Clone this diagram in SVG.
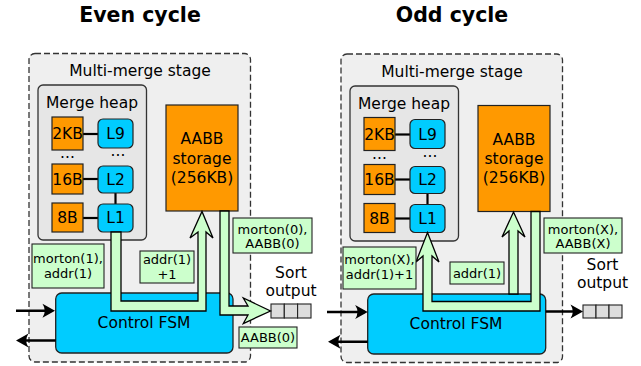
<svg xmlns="http://www.w3.org/2000/svg" width="641" height="366" viewBox="0 0 641 366">
  <style>
    text { font-family: "DejaVu Sans", "Liberation Sans", sans-serif; fill: #000; text-anchor: middle; }
    .title { font-size: 20.5px; font-weight: bold; }
    .t { font-size: 15.5px; }
    .s { font-size: 13px; }
    .stage { fill: #efefef; stroke: #333; stroke-width: 1.3; stroke-dasharray: 6 3; }
    .heap { fill: #e6e6e6; stroke: #333; stroke-width: 1.3; }
    .mem { fill: #ff9900; stroke: #222; stroke-width: 1.2; }
    .lvl { fill: #00ccff; stroke: #222; stroke-width: 1.2; }
    .fsm { fill: #00ccff; stroke: #222; stroke-width: 1.3; }
    .lbl { fill: #ccffcc; stroke: #222; stroke-width: 1.1; }
    .q { fill: #dddddd; stroke: #222; stroke-width: 1.1; }
    .link { stroke: #000; stroke-width: 2.2; fill: none; }
    .bus { fill: #ccffcc; stroke: #000; stroke-width: 1.3; stroke-linejoin: miter; }
    .wire { stroke: #000; stroke-width: 2.5; fill: none; marker-end: url(#head); }
  </style>
  <defs>
    <marker id="head" markerUnits="userSpaceOnUse" markerWidth="20" markerHeight="20" refX="-3" refY="0" orient="auto" overflow="visible">
      <path d="M0,0 L-12.5,-7 Q-8,0 -12.5,7 Z" fill="#000"/>
    </marker>
  </defs>

  <!-- ===== Even cycle ===== -->
  <text class="title" x="140" y="22">Even cycle</text>
  <g id="even-stage">
    <rect class="stage" x="29" y="53.5" width="221.5" height="308.5" rx="6"/>
    <text class="t" x="140" y="76">Multi-merge stage</text>
  </g>
  <g id="even-heap">
    <rect class="heap" x="38" y="85" width="108.5" height="155" rx="5"/>
    <text class="t" x="92" y="108">Merge heap</text>
    <line class="link" x1="83" y1="134" x2="98" y2="134"/>
    <line class="link" x1="83" y1="179" x2="98" y2="179"/>
    <line class="link" x1="83" y1="218" x2="98" y2="218"/>
    <line class="link" x1="115.5" y1="193" x2="115.5" y2="204"/>
    <text class="t" x="67.5" y="158">...</text>
    <text class="t" x="118" y="156">...</text>
  </g>
  <g id="even-2kb"><rect class="mem" x="52" y="117" width="31" height="33"/><text class="t" x="67.5" y="139">2KB</text></g>
  <g id="even-l9"><rect class="lvl" x="98" y="119" width="35" height="29" rx="5"/><text class="t" x="115.5" y="139">L9</text></g>
  <g id="even-16b"><rect class="mem" x="52" y="164" width="31" height="30"/><text class="t" x="67.5" y="184.5">16B</text></g>
  <g id="even-l2"><rect class="lvl" x="98" y="166" width="35" height="27" rx="5"/><text class="t" x="115.5" y="184.5">L2</text></g>
  <g id="even-8b"><rect class="mem" x="52" y="203" width="31" height="29"/><text class="t" x="67.5" y="223">8B</text></g>
  <g id="even-l1"><rect class="lvl" x="98" y="204" width="35" height="28" rx="5"/><text class="t" x="115.5" y="223">L1</text></g>
  <g id="even-aabb">
    <rect class="mem" x="166" y="105" width="72" height="106"/>
    <text class="t" x="202" y="144">AABB</text>
    <text class="t" x="202" y="163.5">storage</text>
    <text class="t" x="202" y="182.5">(256KB)</text>
  </g>
  <g id="even-fsm">
    <rect class="fsm" x="55.7" y="293" width="177.3" height="60" rx="6"/>
    <text class="t" x="144" y="328">Control FSM</text>
  </g>
  <g id="even-queue">
    <rect class="q" x="271" y="304" width="13.3" height="14"/>
    <rect class="q" x="284.3" y="304" width="13.3" height="14"/>
    <rect class="q" x="297.6" y="304" width="13.4" height="14"/>
    <text class="t" x="291" y="278">Sort</text>
    <text class="t" x="291" y="295.5">output</text>
  </g>
  <g id="even-connectors">
    <polygon class="bus" points="111,232 111,311 206,311 206,232 213,238 202,211.5 190,238 198,232 198,301 121,301 121,232"/>
    <polygon class="bus" points="220,211 220,315 248,315 243.3,323.5 270.5,311 243.3,298 248,306 229,306 229,211"/>
    <line class="wire" x1="16" y1="310.7" x2="52" y2="310.7"/>
    <line class="wire" x1="55.7" y1="340.5" x2="19" y2="340.5"/>
  </g>
  <g id="even-labels">
    <rect class="lbl" x="32" y="244" width="72" height="44"/>
    <text class="s" x="68" y="263">morton(1),</text>
    <text class="s" x="68" y="278">addr(1)</text>
    <rect class="lbl" x="140" y="251" width="54" height="32"/>
    <text class="s" x="167" y="264">addr(1)</text>
    <text class="s" x="167" y="279">+1</text>
    <rect class="lbl" x="233" y="218" width="79" height="35"/>
    <text class="s" x="272.5" y="234">morton(0),</text>
    <text class="s" x="272.5" y="248.3">AABB(0)</text>
    <rect class="lbl" x="239" y="327" width="58" height="21"/>
    <text class="s" x="268" y="342">AABB(0)</text>
  </g>

  <!-- ===== Odd cycle ===== -->
  <text class="title" x="452" y="22">Odd cycle</text>
  <g id="odd-stage">
    <rect class="stage" x="341" y="54" width="221.5" height="308.5" rx="6"/>
    <text class="t" x="452" y="76.5">Multi-merge stage</text>
  </g>
  <g id="odd-heap">
    <rect class="heap" x="350" y="86" width="108.5" height="155" rx="5"/>
    <text class="t" x="404" y="108.5">Merge heap</text>
    <line class="link" x1="395" y1="134.5" x2="410" y2="134.5"/>
    <line class="link" x1="395" y1="179.5" x2="410" y2="179.5"/>
    <line class="link" x1="395" y1="218.5" x2="410" y2="218.5"/>
    <line class="link" x1="427.5" y1="193.5" x2="427.5" y2="204.5"/>
    <text class="t" x="379.5" y="158.5">...</text>
    <text class="t" x="430" y="156.5">...</text>
  </g>
  <g id="odd-2kb"><rect class="mem" x="364" y="117.5" width="31" height="33"/><text class="t" x="379.5" y="139.5">2KB</text></g>
  <g id="odd-l9"><rect class="lvl" x="410" y="119.5" width="35" height="29" rx="5"/><text class="t" x="427.5" y="139.5">L9</text></g>
  <g id="odd-16b"><rect class="mem" x="364" y="164.5" width="31" height="30"/><text class="t" x="379.5" y="185">16B</text></g>
  <g id="odd-l2"><rect class="lvl" x="410" y="166.5" width="35" height="27" rx="5"/><text class="t" x="427.5" y="185">L2</text></g>
  <g id="odd-8b"><rect class="mem" x="364" y="203.5" width="31" height="29"/><text class="t" x="379.5" y="223.5">8B</text></g>
  <g id="odd-l1"><rect class="lvl" x="410" y="204.5" width="35" height="28" rx="5"/><text class="t" x="427.5" y="223.5">L1</text></g>
  <g id="odd-aabb">
    <rect class="mem" x="478" y="105.5" width="72" height="106"/>
    <text class="t" x="514" y="144.5">AABB</text>
    <text class="t" x="514" y="164">storage</text>
    <text class="t" x="514" y="183">(256KB)</text>
  </g>
  <g id="odd-fsm">
    <rect class="fsm" x="367.7" y="294" width="178" height="60" rx="6"/>
    <text class="t" x="456" y="329">Control FSM</text>
  </g>
  <g id="odd-queue">
    <rect class="q" x="583" y="305" width="13" height="13"/>
    <rect class="q" x="596" y="305" width="13" height="13"/>
    <rect class="q" x="609" y="305" width="13" height="13"/>
    <text class="t" x="602.5" y="270">Sort</text>
    <text class="t" x="602.5" y="287.5">output</text>
  </g>
  <g id="odd-connectors">
    <polygon class="bus" points="540,211.5 540,311 423,311 423,256 416,262 427.5,232.5 439,262 432,256 432,301.5 531,301.5 531,211.5"/>
    <polygon class="bus" points="509,294 509,231 502,237 513.5,212 525,237 518,231 518,294"/>
    <line class="wire" x1="327" y1="312" x2="364.7" y2="312"/>
    <line class="wire" x1="367.7" y1="341.7" x2="331" y2="341.7"/>
    <line class="wire" x1="545.7" y1="311.5" x2="580" y2="311.5"/>
  </g>
  <g id="odd-labels">
    <rect class="lbl" x="343" y="247" width="73" height="42"/>
    <text class="s" x="379.5" y="264">morton(X),</text>
    <text class="s" x="379.5" y="279">addr(1)+1</text>
    <rect class="lbl" x="450" y="262" width="54" height="22"/>
    <text class="s" x="477" y="277.5">addr(1)</text>
    <rect class="lbl" x="544" y="218" width="78" height="35"/>
    <text class="s" x="583" y="234">morton(X),</text>
    <text class="s" x="583" y="248.3">AABB(X)</text>
  </g>
</svg>
